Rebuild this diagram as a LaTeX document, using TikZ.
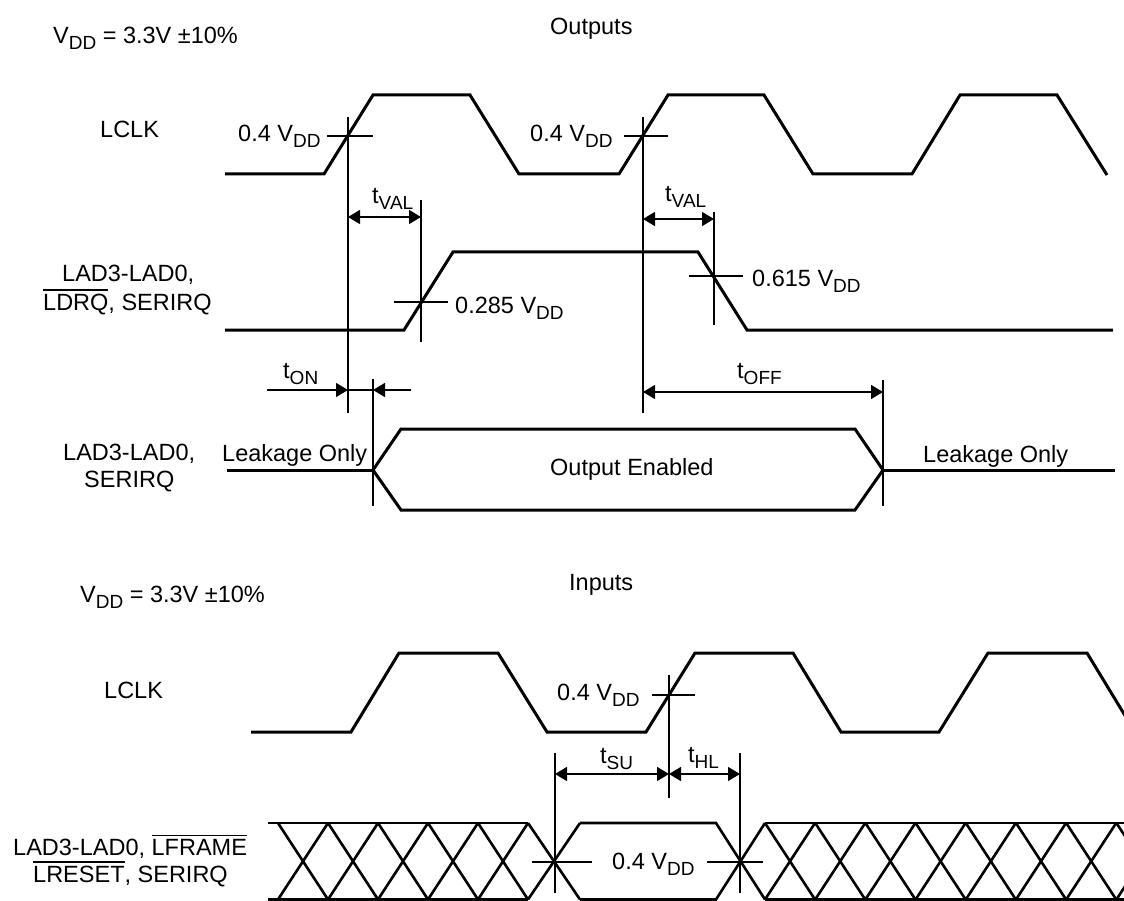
\documentclass[tikz,border=0pt]{standalone}
\usepackage{fontspec}
\setmainfont{Liberation Sans}
\usetikzlibrary{arrows.meta}
\newcommand{\sbs}[1]{\raisebox{-6pt}{\fontsize{19}{19}\selectfont #1}}
\newcommand{\ovl}[1]{\vbox{\hrule height 1.2pt\kern 3pt\hbox{#1}}}
\begin{document}
\begin{tikzpicture}[x=1pt,y=-1pt,
  wave/.style={line width=3pt, line join=miter},
  xwave/.style={line width=2.6pt},
  thinl/.style={line width=1.4pt},
  dim/.style={line width=1.4pt, {Triangle[length=12pt,width=14pt]}-{Triangle[length=12pt,width=14pt]}},
  tipr/.style={line width=1.4pt, -{Triangle[length=12pt,width=14pt]}},
  lbl/.style={inner sep=0pt, anchor=base west, font=\fontsize{23.5}{28}\selectfont}]
\useasboundingbox (0,0) rectangle (1124,901);
\clip (0,0) rectangle (1124,901);
\fill[white] (0,0) rectangle (1124,901);

% ---------- OUTPUTS ----------
\node[lbl] (vdd1) at (53,44) {V\sbs{DD} = 3.3V ±10\%};
\node[lbl] (outs) at (550,35) {Outputs};
\node[lbl] (lclk1) at (100,138) {LCLK};
\node[lbl] (lad1a) at (62,282) {LAD3-LAD0,};
\node[lbl] (lad1b) at (43,310) {\ovl{LDRQ}, SERIRQ};
\node[lbl] (lad2a) at (63,460) {LAD3-LAD0,};
\node[lbl] (lad2b) at (84,487) {SERIRQ};

% LCLK
\draw[wave] (225,174) -- (324,174) -- (373,95) -- (470,95) -- (519,174) -- (619,174) -- (668,95)
  -- (764,95) -- (813,174) -- (912,174) -- (960,95) -- (1057,95) -- (1107,175);
% LAD
\draw[wave] (225,330) -- (404,330) -- (453,252) -- (698,252) -- (747,330) -- (1113,330);
% bus
\draw[wave] (227,470) -- (373,470);
\draw[wave] (373,470) -- (401,429) -- (855,429) -- (883,470) -- (855,510) -- (401,510) -- cycle;
\draw[wave] (883,470) -- (1115,470);

% markers
\coordinate (m1) at (348,0);
\coordinate (m2) at (421,0);
\coordinate (m3) at (643,0);
\coordinate (m4) at (714,0);
\coordinate (m5) at (373,0);
\coordinate (m6) at (883,0);
\draw[thinl] (348,117) -- (348,413);
\draw[thinl] (421,200) -- (421,342);
\draw[thinl] (643,117) -- (643,413);
\draw[thinl] (714,212) -- (714,325);
\draw[thinl] (373,379) -- (373,506);
\draw[thinl] (883,380) -- (883,506);
% ticks
\draw[thinl] (327,136) -- (373,136);
\draw[thinl] (624,136) -- (668,136);
\draw[thinl] (394,302) -- (448,302);
\draw[thinl] (689,276) -- (743,276);

\node[lbl] (v04a) at (238,142) {0.4 V\sbs{DD}};
\node[lbl] (v04b) at (530,142) {0.4 V\sbs{DD}};
\node[lbl] (v285) at (455,313) {0.285 V\sbs{DD}};
\node[lbl] (v615) at (752,287) {0.615 V\sbs{DD}};

% dimensions
\draw[dim] (m1 |- 0,217) -- (m2 |- 0,217);
\node[lbl] (tval1) at (372,204) {t\sbs{VAL}};
\draw[dim] (m3 |- 0,219) -- (m4 |- 0,219);
\node[lbl] (tval2) at (665,202) {t\sbs{VAL}};
\draw[tipr] (267,390) -- (m1 |- 0,390);
\draw[thinl] (m1 |- 0,390) -- (m5 |- 0,390);
\draw[tipr] (411,390) -- (m5 |- 0,390);
\node[lbl] (ton) at (283,378) {t\sbs{ON}};
\draw[dim] (m3 |- 0,392) -- (m6 |- 0,392);
\node[lbl] (toff) at (737,378) {t\sbs{OFF}};

\node[lbl] (leak1) at (222,461) {Leakage Only};
\node[lbl] (oen) at (550,475) {Output Enabled};
\node[lbl] (leak2) at (923,462) {Leakage Only};

% ---------- INPUTS ----------
\node[lbl] (vdd2) at (80,602) {V\sbs{DD} = 3.3V ±10\%};
\node[lbl] (ins) at (569,590) {Inputs};
\node[lbl] (lclk2) at (104,698) {LCLK};
\node[lbl] (lad3a) at (13,855) {LAD3-LAD0, \ovl{LFRAME}};
\node[lbl] (lad3b) at (33,882) {\ovl{LRESET}, SERIRQ};

\draw[wave] (251,732) -- (351,732) -- (399,653) -- (498,653) -- (547,732) -- (646,732) -- (695,653)
  -- (793,653) -- (841,732) -- (939,732) -- (988,653) -- (1087,653) -- (1135,732);

% crossed bus
\draw[xwave] (268,823) -- (528,823);
\draw[xwave] (268,899.5) -- (528,899.5);
\foreach \k in {0,...,4} {
  \draw[xwave] (278+50*\k,823) -- (328+50*\k,899.5);
  \draw[xwave] (278+50*\k,899.5) -- (328+50*\k,823);
}
\draw[xwave] (528,823) -- (580,899.5);
\draw[xwave] (528,899.5) -- (580,823);
\draw[xwave] (580,823) -- (716,823) -- (765,899.5);
\draw[xwave] (580,899.5) -- (716,899.5) -- (765,823);
\draw[xwave] (765,823) -- (1124,823);
\draw[xwave] (765,899.5) -- (1124,899.5);
\foreach \k in {0,...,7} {
  \draw[xwave] (765+50.2*\k,823) -- (815+50.2*\k,899.5);
  \draw[xwave] (765+50.2*\k,899.5) -- (815+50.2*\k,823);
}

\coordinate (n1) at (555,0);
\coordinate (n2) at (669,0);
\coordinate (n3) at (740,0);
\draw[thinl] (669,675) -- (669,798);
\draw[thinl] (555,753) -- (555,893);
\draw[thinl] (740,753) -- (740,893);
\draw[thinl] (652,695) -- (695,695);
\draw[thinl] (532,862) -- (592,862);
\draw[thinl] (707,862) -- (763,862);

\node[lbl] (v04c) at (557,700) {0.4 V\sbs{DD}};
\node[lbl] (v04d) at (612,869) {0.4 V\sbs{DD}};

\draw[dim] (n1 |- 0,774) -- (n2 |- 0,774);
\draw[dim] (n2 |- 0,774) -- (n3 |- 0,774);
\node[lbl] (tsu) at (600,763) {t\sbs{SU}};
\node[lbl] (thl) at (688,762) {t\sbs{HL}};
\end{tikzpicture}
\end{document}
